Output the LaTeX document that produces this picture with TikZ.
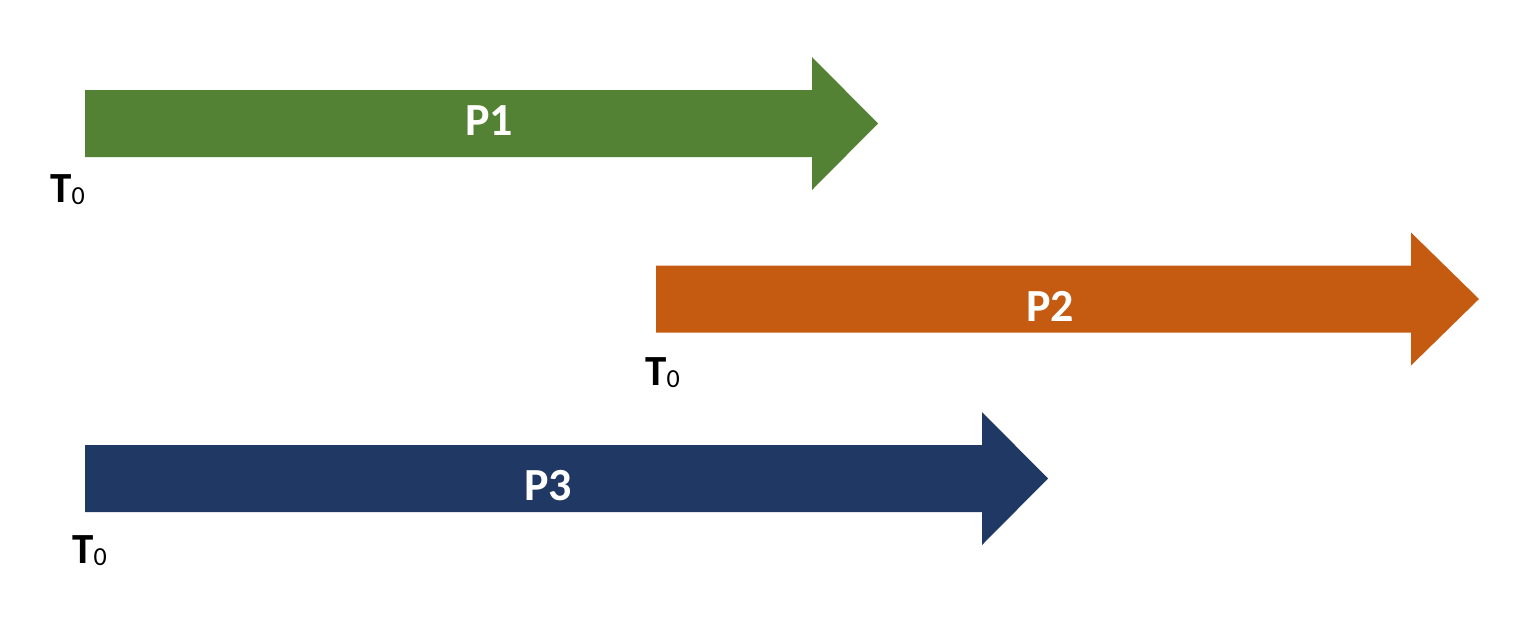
\documentclass[tikz,border=0pt]{standalone}
\usepackage{fontspec}
\setmainfont{Carlito}
\usepackage{tikz}
\definecolor{procgreen}{RGB}{84,130,53}
\definecolor{procorange}{RGB}{197,90,17}
\definecolor{procblue}{RGB}{32,56,100}
\newcommand{\procarrow}[5]{\fill[#1] (#2,{#5-33.5}) -- (#3,{#5-33.5}) -- (#3,{#5-66.5}) -- (#4,#5) -- (#3,{#5+66.5}) -- (#3,{#5+33.5}) -- (#2,{#5+33.5}) -- cycle;}
\newcommand{\tzero}{T\raisebox{-1pt}{\mdseries\fontsize{13}{13}\selectfont 0}}

\begin{document}
\begin{tikzpicture}[x=0.5pt,y=-0.5pt,
  plabel/.style={font=\bfseries\fontsize{23}{23}\selectfont,text=white,inner sep=0pt},
  tlabel/.style={font=\bfseries\fontsize{21.5}{21.5}\selectfont,inner sep=0pt,anchor=base west}]
\useasboundingbox (0,0) rectangle (1527,638);
\procarrow{procgreen}{85}{812}{878}{123.5}
\procarrow{procorange}{656}{1411}{1479}{299}
\procarrow{procblue}{85}{982}{1048}{478.5}
\node[plabel] (p1) at (489,120.5) {P1};
\node[plabel] (p2) at (1050,306) {P2};
\node[plabel] (p3) at (548,485.5) {P3};
\node[tlabel] (t1) at (50,202) {\tzero};
\node[tlabel] (t2) at (645,385) {\tzero};
\node[tlabel] (t3) at (72,563) {\tzero};
\end{tikzpicture}
\end{document}
